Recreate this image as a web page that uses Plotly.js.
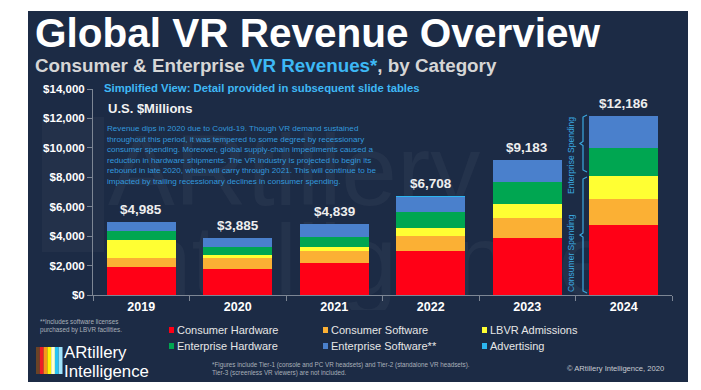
<!DOCTYPE html>
<html>
<head>
<meta charset="utf-8">
<script src="https://cdn.plot.ly/plotly-3.0.1.min.js"></script>
<style>
html,body{margin:0;padding:0;background:#fff;}
#chart{width:701px;height:390px;}
</style>
</head>
<body>
<div id="chart"></div>
<script>
// ---- data ----
var years = ['2019', '2020', '2021', '2022', '2023', '2024'];
var consumerHardware   = [1925, 1798, 2162, 3010, 3905, 4766];
var consumerSoftware   = [604, 741, 804, 994, 1297, 1738];
var lbvrAdmissions     = [1208, 175, 268, 545, 997, 1609];
var enterpriseHardware = [624, 539, 716, 1069, 1461, 1901];
var enterpriseSoftware = [604, 617, 869, 1065, 1493, 2132];
var advertising        = [20, 15, 20, 25, 30, 40];
var seriesNames = ['Consumer Hardware', 'Consumer Software', 'LBVR Admissions',
                   'Enterprise Hardware', 'Enterprise Software**', 'Advertising'];
var seriesColors = ['#ff0016', '#fbb034', '#ffff33', '#00a651', '#4a80cc', '#2cb5f0'];
var yTickVals = [0, 2000, 4000, 6000, 8000, 10000, 12000, 14000];
var yTickText = ['$0', '$2,000', '$4,000', '$6,000', '$8,000', '$10,000', '$12,000', '$14,000'];

var seriesValues = [consumerHardware, consumerSoftware, lbvrAdmissions,
                    enterpriseHardware, enterpriseSoftware, advertising];

// ---- geometry helpers (page pixel -> paper) ----
var L = 93, R = 672, T = 89, B = 295;
function px(x) { return (x - L) / (R - L); }
function py(y) { return (B - y) / (B - T); }

var FONT = 'Liberation Sans, Arial, Helvetica, sans-serif';

var traces = seriesValues.map(function (vals, i) {
  return {
    type: 'bar', x: years, y: vals, name: seriesNames[i],
    marker: { color: seriesColors[i], line: { width: 0 } },
    hoverinfo: 'x+y+name', showlegend: false
  };
});

var totals = years.map(function (_, j) {
  return seriesValues.reduce(function (s, arr) { return s + arr[j]; }, 0);
});

function fmt(v) { return '$' + v.toString().replace(/\B(?=(\d{3})+(?!\d))/g, ','); }

var annotations = [];
function txt(x, y, text, size, color, opts) {
  var a = {
    xref: 'paper', yref: 'paper', x: px(x), y: py(y), text: text, showarrow: false,
    xanchor: 'left', yanchor: 'middle', align: 'left',
    font: { family: FONT, size: size, color: color }
  };
  for (var k in (opts || {})) a[k] = opts[k];
  annotations.push(a);
}

// totals above bars (x given as category index)
years.forEach(function (yr, j) {
  annotations.push({
    xref: 'x', yref: 'y', x: j, y: totals[j], text: '<b>' + fmt(totals[j]) + '</b>',
    showarrow: false, yanchor: 'bottom', yshift: 3,
    font: { family: FONT, size: 13.5, color: '#eeeeee' }
  });
});

// titles
txt(33, 32.5, '<b>Global VR Revenue Overview</b>', 40.5, '#ffffff');
txt(33, 65, '<b><span style="color:#d6d6d6">Consumer &amp; Enterprise </span><span style="color:#3db8f5">VR Revenues*</span><span style="color:#d6d6d6">, by Category</span></b>', 18.8, '#d6d6d6');
txt(102, 88, '<b>Simplified View: Detail provided in subsequent slide tables</b>', 11.3, '#3fb8f5');
txt(106, 108, '<b>U.S. $Millions</b>', 13, '#f2f2f2');
txt(105, 155, 'Revenue dips in 2020 due to Covid-19. Though VR demand sustained<br>' +
  'throughout this period, it was tempered to some degree by recessionary<br>' +
  'consumer spending. Moreover, global supply-chain impediments caused a<br>' +
  'reduction in hardware shipments. The VR industry is projected to begin its<br>' +
  'rebound in late 2020, which will carry through 2021. This will continue to be<br>' +
  'impacted by trailing recessionary declines in consumer spending.', 8.1, '#3399dd');

// spending labels
txt(571, 156, 'Enterprise Spending', 8.5, '#3aa8e0', { textangle: -90, xanchor: 'center' });
txt(571, 253, 'Consumer Spending', 8.5, '#3aa8e0', { textangle: -90, xanchor: 'center' });

// legend
var legX = [169, 323, 482], legY = [330, 346];
var shapes = [];
seriesNames.forEach(function (n, i) {
  var cx = legX[i % 3], cy = legY[Math.floor(i / 3)];
  txt(cx + 6, cy, n, 11, '#e6e6e6');
  shapes.push({ type: 'rect', xref: 'paper', yref: 'paper',
    x0: px(cx), x1: px(cx + 5), y0: py(cy + 3), y1: py(cy - 3),
    fillcolor: seriesColors[i], line: { width: 0 } });
});

// footnotes
txt(38, 326, '**Includes software licenses<br>purchased by LBVR facilities.', 6.3, '#a9b0ba');
txt(210, 369, '*Figures include Tier-1 (console and PC VR headsets) and Tier-2 (standalone VR headsets).<br>Tier-3 (screenless VR viewers) are not included.', 6.3, '#a9b0ba');
txt(565, 368, '© ARtillery Intelligence, 2020', 7.6, '#c8ccd2');

// logo text
txt(62, 352.5, 'ARtillery', 16.8, '#ffffff');
txt(62, 371.5, 'Intelligence', 16.8, '#ffffff');

// faint watermark block (logo stripes ghost)
shapes.unshift({ type: 'rect', xref: 'paper', yref: 'paper', layer: 'below',
  x0: px(42), x1: px(104), y0: py(252), y1: py(117),
  fillcolor: 'rgba(255,255,255,0.03)', line: { width: 0 } });

// logo stripes
var stripeColors = ['#6b4326', '#ee1c25', '#f7941d', '#fff200', '#ffffcc', '#27c4f3', '#9fe3fb'];
stripeColors.forEach(function (c, i) {
  var w = 26.5 / stripeColors.length;
  shapes.push({ type: 'rect', xref: 'paper', yref: 'paper',
    x0: px(36 + i * w), x1: px(36 + (i + 1) * w), y0: py(374), y1: py(347),
    fillcolor: c, line: { width: 0 } });
});

// brackets
function bracket(x, y0, y1) {
  var ym = (y0 + y1) / 2;
  var p = 'M ' + px(x + 4) + ' ' + py(y0) + ' L ' + px(x) + ' ' + py(y0 + 2) +
    ' L ' + px(x) + ' ' + py(ym - 2) + ' L ' + px(x - 3) + ' ' + py(ym) +
    ' L ' + px(x) + ' ' + py(ym + 2) + ' L ' + px(x) + ' ' + py(y1 - 2) +
    ' L ' + px(x + 4) + ' ' + py(y1);
  shapes.push({ type: 'path', xref: 'paper', yref: 'paper', path: p,
    line: { color: '#3aa8e0', width: 1.2 } });
}
bracket(583, 115, 172);
bracket(583, 177, 293);

// dark slide panel + faint watermark lettering, both as images below the bars
var panelSvg = "<svg xmlns='http://www.w3.org/2000/svg' width='10' height='10'>" +
  "<rect width='10' height='10' fill='#1c2b45'/></svg>";
var wm = "<svg xmlns='http://www.w3.org/2000/svg' width='590' height='200'>" +
  "<g font-family='Liberation Sans, Arial, sans-serif' font-size='100' fill='#ffffff' fill-opacity='0.04'>" +
  "<text x='8' y='95'>ARtillery</text><text x='8' y='185'>Intelligence</text></g></svg>";
function svgUri(s) { return 'data:image/svg+xml;charset=utf-8,' + encodeURIComponent(s); }
var images = [{
  source: svgUri(panelSvg),
  xref: 'paper', yref: 'paper', x: px(28), y: py(11),
  sizex: 660 / (R - L), sizey: 371 / (B - T), sizing: 'stretch',
  xanchor: 'left', yanchor: 'top', layer: 'below'
}, {
  source: svgUri(wm),
  xref: 'paper', yref: 'paper', x: px(100), y: py(110),
  sizex: 590 / (R - L), sizey: 200 / (B - T), sizing: 'stretch',
  xanchor: 'left', yanchor: 'top', layer: 'below'
}];

var layout = {
  width: 701, height: 390,
  margin: { l: L, r: 701 - R, t: T, b: 390 - B, pad: 0 },
  paper_bgcolor: '#ffffff', plot_bgcolor: 'rgba(0,0,0,0)',
  barmode: 'stack', bargap: 0.285, showlegend: false,
  font: { family: FONT },
  xaxis: {
    type: 'category', range: [-0.5, 5.5], autorange: false,
    showgrid: false, zeroline: false,
    showline: true, linecolor: '#7d8694', linewidth: 1,
    ticks: 'outside', tickson: 'boundaries', ticklen: 5, tickcolor: '#7d8694',
    tickangle: 0,
    tickfont: { family: FONT, size: 12.5, color: '#ffffff', weight: 700 },
    automargin: false
  },
  yaxis: {
    range: [0, 14000], autorange: false, showgrid: false, zeroline: false,
    showline: true, linecolor: '#7d8694', linewidth: 1,
    ticks: 'outside', ticklen: 5, tickcolor: '#7d8694',
    tickvals: yTickVals, ticktext: yTickText,
    tickfont: { family: FONT, size: 11.5, color: '#ffffff', weight: 700 },
    automargin: false
  },
  annotations: annotations,
  shapes: shapes,
  images: images
};

Plotly.newPlot('chart', traces, layout, { displayModeBar: false, staticPlot: true });
</script>
</body>
</html>
